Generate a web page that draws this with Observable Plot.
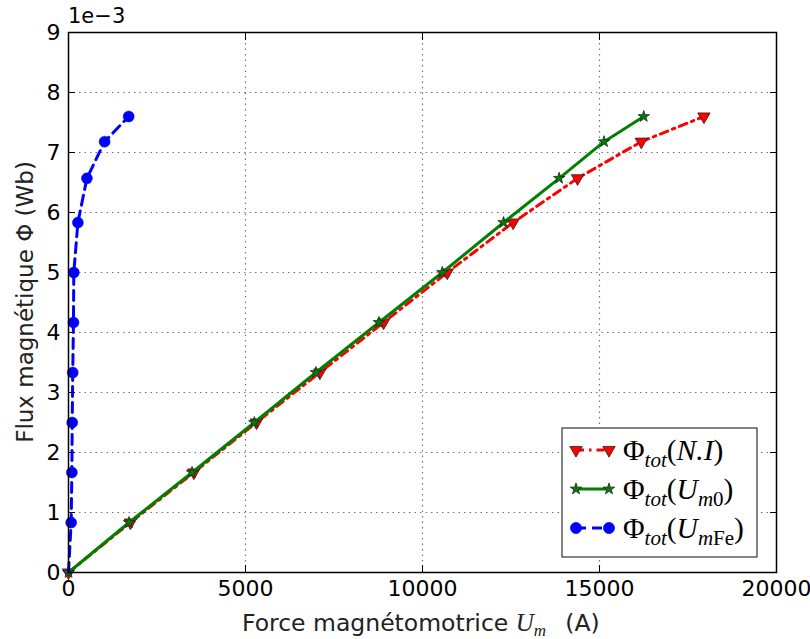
<!DOCTYPE html>
<html>
<head>
<meta charset="utf-8">
<script src="https://cdn.jsdelivr.net/npm/d3@7"></script>
<script src="https://cdn.jsdelivr.net/npm/@observablehq/plot@0.6"></script>
<style>
  html, body { margin: 0; padding: 0; background: #fff; }
  #chart { position: relative; width: 810px; height: 639px; }
</style>
</head>
<body>
<div id="chart"></div>
<script>
// Flux (units of 1e-3 Wb)
const flux = [0, 0.833, 1.667, 2.5, 3.333, 4.167, 5.0, 5.833, 6.57, 7.18, 7.6];
// Magnetomotive force (A)
const umNI = [0, 1750, 3540, 5310, 7100, 8900, 10700, 12560, 14380, 16180, 17950];
const umM0 = [0, 1710, 3490, 5250, 6990, 8770, 10560, 12290, 13860, 15130, 16250];
const umFe = [0, 75, 95, 105, 120, 140, 150, 265, 520, 1020, 1700];
const xTicks = [0, 5000, 10000, 15000, 20000];
const yTicks = [0, 1, 2, 3, 4, 5, 6, 7, 8, 9];

const red = "#ff0000", green = "#008000", blue = "#0000ff";
const mk = (xs) => xs.map((x, i) => ({x, y: flux[i]}));
const dNI = mk(umNI), dM0 = mk(umM0), dFe = mk(umFe);

const W = 810, H = 639, ML = 68, MR = 34, MT = 32, MB = 67;
const font = "DejaVu Sans, sans-serif";
const fmt = d => String(d);

const plot = Plot.plot({
  width: W, height: H,
  marginLeft: ML, marginRight: MR, marginTop: MT, marginBottom: MB,
  style: {fontFamily: font, fontSize: "22px", color: "#000", background: "#fff", overflow: "visible"},
  x: {domain: [0, 20000], ticks: xTicks, label: null},
  y: {domain: [0, 9], ticks: yTicks, label: null},
  marks: [
    Plot.gridX(xTicks.slice(1, -1), {stroke: "#777", strokeOpacity: 1, strokeWidth: 1.2, strokeDasharray: "1.5,4"}),
    Plot.gridY(yTicks.slice(1, -1), {stroke: "#777", strokeOpacity: 1, strokeWidth: 1.2, strokeDasharray: "1.5,4"}),
    Plot.axisX(xTicks, {anchor: "bottom", tickSize: 0, tickPadding: 8, fontSize: 22, tickFormat: fmt, label: null}),
    Plot.axisY(yTicks, {anchor: "left", tickSize: 0, tickPadding: 8, fontSize: 22, tickFormat: fmt, label: null}),
    Plot.axisX(xTicks, {anchor: "bottom", tickSize: -7, tickFormat: () => "", label: null}),
    Plot.axisX(xTicks, {anchor: "top", tickSize: -7, tickFormat: () => "", label: null}),
    Plot.axisY(yTicks, {anchor: "left", tickSize: -7, tickFormat: () => "", label: null}),
    Plot.axisY(yTicks, {anchor: "right", tickSize: -7, tickFormat: () => "", label: null}),
    // N.I
    Plot.line(dNI, {x: "x", y: "y", stroke: red, strokeWidth: 3, strokeDasharray: "8,5,2.5,5"}),
    Plot.dot(dNI, {x: "x", y: "y", symbol: "triangle", rotate: 180, r: 4.6, fill: red, stroke: "#222", strokeWidth: 0.8}),
    // Um0
    Plot.line(dM0, {x: "x", y: "y", stroke: green, strokeWidth: 3}),
    Plot.dot(dM0, {x: "x", y: "y", symbol: "star", r: 3.6, fill: green, stroke: "#222", strokeWidth: 0.8}),
    // UmFe
    Plot.line(dFe, {x: "x", y: "y", stroke: blue, strokeWidth: 3, strokeDasharray: "10,6"}),
    Plot.dot(dFe.slice(1), {x: "x", y: "y", symbol: "circle", r: 5.5, fill: blue, stroke: blue, strokeWidth: 0.5}),
    Plot.frame({stroke: "#000", strokeWidth: 1.5})
  ]
});
document.getElementById("chart").appendChild(plot);

const svg = d3.select(plot);
const plotL = ML, plotR = W - MR, plotT = MT, plotB = H - MB;

// offset label
svg.append("text").attr("x", plotL).attr("y", plotT - 9).attr("text-anchor", "start")
  .attr("font-family", font).attr("font-size", 21).attr("fill", "#000").text("1e\u22123");

// X axis label
const xl = svg.append("text").attr("x", 242).attr("y", H - 8)
  .attr("text-anchor", "start").attr("font-family", font).attr("font-size", 23.5).attr("fill", "#222");
xl.append("tspan").text("Force magnétomotrice ");
xl.append("tspan").attr("font-family", "Liberation Serif, serif").attr("font-style", "italic").attr("font-size", 25).text("U");
xl.append("tspan").attr("font-family", "Liberation Serif, serif").attr("font-style", "italic").attr("font-size", 17).attr("dy", 5).text("m");
xl.append("tspan").attr("dy", -5).text("\u2002 (A)");

// Y axis label
svg.append("text").attr("transform", `translate(33,302) rotate(-90)`)
  .attr("text-anchor", "middle").attr("font-family", font).attr("font-size", 23).attr("fill", "#222")
  .text("Flux magnétique \u03A6 (Wb)");

// Legend
const lg = svg.append("g").attr("text-anchor", "start");
const lx = 562, ly = 428, lw = 195, lh = 129;
lg.append("rect").attr("x", lx).attr("y", ly).attr("width", lw).attr("height", lh)
  .attr("fill", "#fff").attr("stroke", "#333").attr("stroke-width", 1.2);
const entries = [
  {color: red, dash: "8,5,2.5,5", sym: d3.symbolTriangle, rot: 180, size: Math.PI * 4.6 * 4.6, edge: "#222", arg: "N.I", sub: null},
  {color: green, dash: null, sym: d3.symbolStar, rot: 0, size: Math.PI * 3.6 * 3.6, edge: "#222", arg: "U", sub: "0"},
  {color: blue, dash: "10,6", sym: d3.symbolCircle, rot: 0, size: Math.PI * 5.5 * 5.5, edge: blue, arg: "U", sub: "Fe"}
];
entries.forEach((e, i) => {
  const cy = ly + 22 + i * 39;
  const x1 = lx + 14, x2 = lx + 47;
  const ln = lg.append("line").attr("x1", x1).attr("x2", x2).attr("y1", cy).attr("y2", cy)
    .attr("stroke", e.color).attr("stroke-width", 3);
  if (e.dash) ln.attr("stroke-dasharray", e.dash);
  [x1, x2].forEach(px => {
    lg.append("path").attr("d", d3.symbol(e.sym, e.size)())
      .attr("transform", `translate(${px},${cy}) rotate(${e.rot})`)
      .attr("fill", e.color).attr("stroke", e.edge).attr("stroke-width", 0.8);
  });
  const t = lg.append("text").attr("x", lx + 61).attr("y", cy + 10).attr("text-anchor", "start")
    .attr("font-family", "Liberation Serif, serif").attr("font-size", 29.5).attr("fill", "#000");
  t.append("tspan").text("\u03A6");
  t.append("tspan").attr("font-style", "italic").attr("font-size", 21).attr("dy", 7).text("tot");
  t.append("tspan").attr("dy", -7).text("(");
  t.append("tspan").attr("font-style", "italic").text(e.arg);
  if (e.sub) {
    t.append("tspan").attr("font-style", "italic").attr("font-size", 21).attr("dy", 7).text("m");
    t.append("tspan").attr("font-size", 21).text(e.sub);
    t.append("tspan").attr("dy", -7).text(")");
  } else {
    t.append("tspan").text(")");
  }
});
</script>
</body>
</html>
